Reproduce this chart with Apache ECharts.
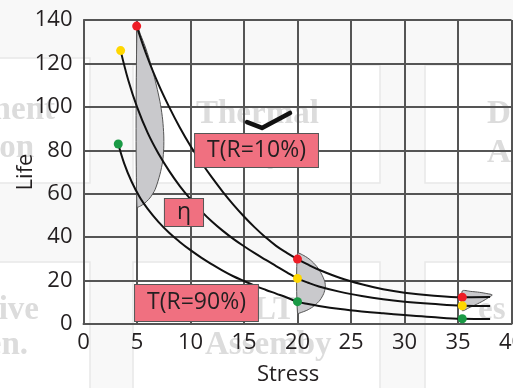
<!DOCTYPE html>
<html>
<head>
<meta charset="utf-8">
<script src="https://cdn.jsdelivr.net/npm/echarts@6/dist/echarts.min.js"></script>
<style>
  html, body { margin: 0; padding: 0; background: #ffffff; }
  #chart { width: 513px; height: 388px; }
</style>
</head>
<body>
<div id="chart"></div>
<script>
// Axis ticks
const stressTicks = [0, 5, 10, 15, 20, 25, 30, 35, 40];
const lifeTicks = [0, 20, 40, 60, 80, 100, 120, 140];

// Life vs stress curves [stress, life]
const curveR10 = [[4.97, 137.2], [6, 122.5], [7, 110.5], [8, 100], [9, 90.5], [10, 82], [11, 74.5],
  [12, 67.5], [13, 61], [14, 55], [15, 49.5], [16, 44.5], [17, 40], [18, 36], [19, 32.8], [20, 29.9],
  [21, 27.3], [22, 25], [24, 21.2], [26, 18.3], [28, 16], [30, 14.4], [32.5, 13.1], [35.4, 12.3], [38, 12.4]];
const curveEta = [[3.47, 125.9], [4.2, 112], [5, 100], [6, 88], [7, 78.5], [8, 70.5], [9, 63.5], [10, 57.5],
  [11, 52], [12, 47.2], [13, 43], [14, 39.2], [15, 35.8], [16, 32.6], [17, 29.6], [18, 26.7], [19, 23.8],
  [20, 21], [21, 19], [22, 17.3], [24, 14.8], [26, 12.9], [28, 11.4], [30, 10.3], [32.5, 9.3], [35.4, 8.4], [38, 8.3]];
const curveR90 = [[3.25, 82.9], [3.8, 74], [4.5, 65.5], [5.3, 58], [6, 53], [7, 47], [8, 42], [9, 37.8],
  [10, 34], [11, 30.6], [12, 27.5], [13, 24.6], [14, 22], [15, 19.8], [16, 17.7], [17, 15.8], [18, 14],
  [19, 12.2], [20, 10.3], [21, 9.2], [22, 8.3], [24, 6.9], [26, 5.8], [28, 4.9], [30, 4.1], [32.5, 3.2],
  [35.4, 2.4], [38, 2.3]];

// Marked points on each curve
const dotsR10 = [[4.97, 137.2], [20, 29.9], [35.4, 12.3]];
const dotsEta = [[3.47, 125.9], [20, 21], [35.4, 8.4]];
const dotsR90 = [[3.25, 82.9], [20, 10.3], [35.4, 2.4]];

// Scatter envelopes (outline of each spread)
const spreadAt5 = [[5, 137.2], [5.35, 133], [5.75, 128], [6.15, 122], [6.55, 115], [6.9, 108], [7.2, 101],
  [7.4, 94], [7.5, 87], [7.5, 81], [7.4, 75], [7.15, 69], [6.7, 62], [6.2, 58], [5.6, 55.2], [5, 54]];
const spreadAt20 = [[20, 32.5], [20.6, 31.5], [21.2, 29.5], [21.8, 26.5], [22.25, 23], [22.55, 19.5],
  [22.6, 17], [22.45, 14], [22.1, 11], [21.6, 8.5], [21, 6.6], [20.4, 5.4], [20, 5]];
const spreadAt35 = [[35.4, 15.2], [36.2, 15], [37, 14.6], [37.7, 14], [38.2, 13.4], [37.8, 12],
  [37.3, 10.5], [36.7, 9], [36, 7.4], [35.4, 6.2]];

// Annotation texts and their anchors
const labelTexts = ['T(R=10%)', 'η', 'T(R=90%)'];
const labelAnchors = [[16.17, 79.9], [9.39, 51.4], [10.56, 9.7]];
const labelPads = [[5, 12, 5, 12], [2, 12, 2, 12], [7, 12, 6, 12]];
const checkStroke = [[15.28, 93.0], [16.68, 90.3], [19.3, 97.2]];

const FONT = '"Open Sans", "Noto Sans", sans-serif';
const chart = echarts.init(document.getElementById('chart'));

function curveSeries(points) {
  return {
    type: 'line', data: points, smooth: 0.4, showSymbol: false, symbol: 'none', silent: true,
    lineStyle: { color: '#111', width: 2 }, z: 4
  };
}
function dotSeries(points, color) {
  return {
    type: 'scatter', data: points, symbolSize: 9, silent: true,
    itemStyle: { color: color, opacity: 1 }, z: 6
  };
}
function spreadSeries(points) {
  return {
    type: 'custom', data: [0], silent: true, z: 3,
    renderItem: function (params, api) {
      return {
        type: 'polygon',
        shape: { points: points.map(p => api.coord(p)), smooth: 0.25 },
        style: { fill: '#c9c9cc', stroke: '#555', lineWidth: 1 }
      };
    }
  };
}

const gridLine = { color: '#555', width: 2 };
const tickText = { fontSize: 22, color: '#231f20', fontFamily: FONT };

// Background tiles and faint lettering behind the plot
const wm = { fill: '#dcdcdc', fontFamily: '"Liberation Serif", "DejaVu Serif", serif', fontWeight: 'bold', fontSize: 33 };
const tile = { fill: '#ffffff', stroke: '#e8e8e8', lineWidth: 1.5 };
function wmText(text, x, y, align) {
  return { type: 'text', x: x, y: y, z: -18,
    style: Object.assign({ text: text, textAlign: align, textVerticalAlign: 'bottom' }, wm) };
}
const backdrop = [
  { type: 'rect', shape: { x: 0, y: 0, width: 513, height: 388 }, style: { fill: '#f8f8f8' }, z: -20 },
  { type: 'rect', shape: { x: -10, y: 58, width: 100, height: 125 }, style: tile, z: -19 },
  { type: 'rect', shape: { x: 133, y: 65, width: 247, height: 118 }, style: tile, z: -19 },
  { type: 'rect', shape: { x: 425, y: 65, width: 100, height: 118 }, style: tile, z: -19 },
  { type: 'rect', shape: { x: -10, y: 262, width: 100, height: 140 }, style: tile, z: -19 },
  { type: 'rect', shape: { x: 133, y: 262, width: 247, height: 140 }, style: tile, z: -19 },
  { type: 'rect', shape: { x: 425, y: 262, width: 100, height: 140 }, style: tile, z: -19 },
  wmText('ment', 55, 127, 'right'),
  wmText('on', 34, 165, 'right'),
  wmText('Thermal', 196, 131, 'left'),
  wmText('y', 267, 170, 'left'),
  wmText('D', 487, 131, 'left'),
  wmText('A', 487, 170, 'left'),
  wmText('ive', 39, 327, 'right'),
  wmText('en.', 28, 362, 'right'),
  wmText('LT', 254, 327, 'left'),
  wmText('Assemby', 205, 362, 'left'),
  wmText('es', 478, 327, 'left')
];

const option = {
  animation: false,
  backgroundColor: 'transparent',
  graphic: { elements: backdrop },
  grid: { left: 83.5, right: 1.5, top: 20, bottom: 64, containLabel: false, outerBoundsMode: 'none' },
  xAxis: {
    type: 'value', min: stressTicks[0], max: stressTicks[stressTicks.length - 1], interval: 5,
    name: 'Stress', nameLocation: 'middle', nameGap: 40, nameMoveOverlap: false,
    nameTextStyle: { fontSize: 22, color: '#231f20', fontFamily: FONT, padding: [0, 19, 0, 0] },
    axisLine: { show: true, lineStyle: gridLine }, axisTick: { show: false },
    axisLabel: Object.assign({ margin: 8, hideOverlap: false }, tickText),
    splitLine: { show: true, lineStyle: gridLine }
  },
  yAxis: {
    type: 'value', min: lifeTicks[0], max: lifeTicks[lifeTicks.length - 1], interval: 20,
    name: 'Life', nameLocation: 'middle', nameGap: 47, nameMoveOverlap: false,
    nameTextStyle: { fontSize: 22, color: '#231f20', fontFamily: FONT },
    axisLine: { show: true, lineStyle: gridLine }, axisTick: { show: false },
    axisLabel: Object.assign({ margin: 11 }, tickText),
    splitLine: { show: true, lineStyle: gridLine }
  },
  series: [
    spreadSeries(spreadAt5),
    spreadSeries(spreadAt20),
    spreadSeries(spreadAt35),
    curveSeries(curveR10),
    curveSeries(curveEta),
    curveSeries(curveR90),
    dotSeries(dotsR10, '#ee1c25'),
    dotSeries(dotsEta, '#ffd700'),
    dotSeries(dotsR90, '#1a9a45'),
    {
      // tick mark beside the upper label
      type: 'custom', data: [0], silent: true, z: 7,
      renderItem: function (params, api) {
        return {
          type: 'polyline',
          shape: { points: checkStroke.map(p => api.coord(p)) },
          style: { stroke: '#111', lineWidth: 4.5, lineCap: 'round', lineJoin: 'round', fill: null }
        };
      }
    },
    {
      // boxed annotations
      type: 'custom', silent: true, z: 8,
      data: labelTexts.map((t, i) => i),
      renderItem: function (params, api) {
        const i = params.dataIndex;
        const pt = api.coord(labelAnchors[i]);
        return {
          type: 'text', x: pt[0], y: pt[1],
          style: {
            text: labelTexts[i], align: 'center', verticalAlign: 'middle',
            fill: '#231f20', fontSize: 23, fontFamily: FONT,
            backgroundColor: '#f07080', borderColor: '#555', borderWidth: 1, padding: labelPads[i]
          }
        };
      }
    }
  ]
};
chart.setOption(option);
</script>
</body>
</html>
